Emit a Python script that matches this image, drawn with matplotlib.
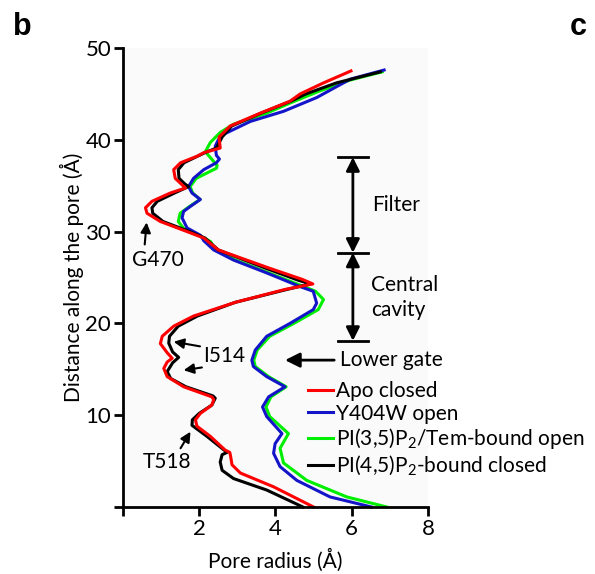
import matplotlib.pyplot as plt

plt.rcParams['font.family'] = ['Lato', 'DejaVu Sans']
plt.rcParams['mathtext.fontset'] = 'custom'
plt.rcParams['mathtext.rm'] = 'Lato'
plt.rcParams['mathtext.it'] = 'Lato:italic'

# pore profiles: distance along pore (A) vs radius (A)
apo_z = [0.0, 2.2, 3.7, 4.6, 5.6, 5.95, 6.2, 7.7, 8.8, 9.5, 10.2, 11.1, 11.7, 12.0,
         13.1, 14.2, 15.1, 15.8, 16.2, 16.8, 17.8, 18.6, 19.7, 20.8, 22.3, 23.7, 24.3,
         24.8, 26.0, 28.0, 29.3, 30.0, 31.1, 32.0, 32.6, 33.3, 34.2, 34.75, 35.1, 35.8,
         36.75, 37.5, 38.2, 38.6, 39.1, 40.3, 41.5, 42.9, 44.2, 45.0, 46.2, 47.5]
apo_r = [5.0, 3.95, 3.08, 2.86, 2.82, 2.80, 2.68, 2.29, 1.94, 1.90, 2.03, 2.33, 2.38, 2.33,
         1.59, 1.16, 1.07, 1.16, 1.29, 1.16, 0.98, 1.03, 1.33, 1.85, 2.95, 4.25, 4.98,
         4.70, 3.85, 2.50, 2.12, 1.68, 0.98, 0.63, 0.59, 0.76, 1.24, 1.64, 1.55, 1.37,
         1.33, 1.51, 1.94, 2.12, 2.55, 2.52, 2.81, 3.60, 4.38, 4.65, 5.26, 5.98]

y404w_z = [0.0, 1.1, 2.9, 4.4, 5.85, 6.9, 8.0, 9.85, 10.9, 12.0, 13.1, 14.2, 15.3, 16.0,
           17.1, 18.6, 20.0, 21.5, 22.2, 23.5, 24.0, 25.5, 26.9, 28.0, 29.0, 29.6, 30.4,
           31.5, 32.2, 32.75, 33.5, 34.2, 34.9, 35.8, 36.75, 37.5, 37.9, 38.3, 39.3, 40.0,
           40.6, 42.0, 43.1, 44.6, 46.6, 47.6]
y404w_r = [6.52, 5.43, 4.56, 4.12, 3.95, 3.99, 4.17, 3.77, 3.66, 3.82, 4.25, 3.77, 3.42, 3.38,
           3.47, 3.77, 4.38, 4.99, 5.08, 4.99, 4.65, 3.77, 2.90, 2.38, 2.12, 2.03, 1.68,
           1.55, 1.59, 1.77, 2.03, 1.81, 1.72, 1.85, 2.12, 2.45, 2.53, 2.45, 2.42, 2.50,
           2.64, 3.34, 4.21, 5.08, 5.96, 6.85]

pi35_z = [0.0, 1.1, 2.9, 4.8, 6.4, 8.0, 9.85, 10.9, 12.0, 13.1, 14.2, 15.3, 16.0, 17.1,
          18.6, 20.0, 21.5, 22.6, 23.5, 24.0, 25.5, 26.9, 28.0, 28.9, 29.5, 30.3, 31.1,
          32.0, 32.75, 33.5, 34.2, 34.9, 35.8, 36.9, 37.2, 38.7, 39.7, 40.8, 41.7, 42.9,
          44.0, 45.3, 46.5, 47.4]
pi35_r = [6.92, 5.87, 4.82, 4.21, 4.12, 4.34, 3.85, 3.75, 3.88, 4.28, 3.82, 3.47, 3.43, 3.52,
          3.85, 4.48, 5.12, 5.26, 5.05, 4.75, 3.82, 2.95, 2.42, 2.30, 2.05, 1.60, 1.45,
          1.50, 1.75, 2.02, 1.83, 1.76, 1.92, 2.45, 2.47, 2.16, 2.29, 2.55, 2.90, 3.77,
          4.38, 5.15, 5.95, 6.80]

pi45_z = [0.0, 1.85, 3.1, 4.0, 4.9, 5.7, 5.95, 7.7, 8.9, 9.5, 10.2, 11.1, 11.85, 12.1,
          13.1, 14.0, 14.75, 15.7, 16.3, 16.9, 17.85, 18.6, 19.7, 20.8, 22.3, 23.7, 24.3,
          24.7, 26.0, 28.0, 29.3, 30.0, 31.1, 32.0, 32.6, 33.3, 34.2, 34.9, 35.2, 35.8,
          36.75, 37.5, 38.2, 38.6, 39.1, 40.3, 41.5, 42.9, 44.2, 45.0, 46.2, 47.4]
pi45_r = [4.72, 3.77, 2.90, 2.60, 2.55, 2.60, 2.73, 2.20, 1.81, 1.82, 2.00, 2.33, 2.42, 2.36,
          1.65, 1.25, 1.16, 1.30, 1.46, 1.30, 1.20, 1.22, 1.45, 1.95, 2.95, 4.30, 4.92,
          4.60, 3.75, 2.50, 2.15, 1.75, 1.05, 0.78, 0.76, 0.90, 1.35, 1.72, 1.62, 1.47,
          1.45, 1.60, 1.95, 2.15, 2.45, 2.60, 2.85, 3.62, 4.40, 4.80, 5.60, 6.75]

labels = ['Apo closed', 'Y404W open', 'PI(3,5)P$_2$/Tem-bound open',
          'PI(4,5)P$_2$-bound closed']
colors = ['#ff0000', '#1414c8', '#00ee00', '#000000']

x_ticks = [0, 2, 4, 6, 8]
x_ticklabels = ['', '2', '4', '6', '8']
y_ticks = [0, 10, 20, 30, 40, 50]
y_ticklabels = ['', '10', '20', '30', '40', '50']

# region boundaries (A along the pore)
filter_top, filter_bottom, cavity_bottom = 38.1, 27.7, 18.1

fs = 15
fig = plt.figure(figsize=(5.95, 5.74), dpi=100)
ax = fig.add_axes([0.2067, 0.1167, 0.5126, 0.7997])
ax.set_facecolor('#fafafa')

lw = 2.2
l_green, = ax.plot(pi35_r, pi35_z, color=colors[2], lw=lw, clip_on=False, solid_joinstyle='round')
l_blue, = ax.plot(y404w_r, y404w_z, color=colors[1], lw=lw, clip_on=False, solid_joinstyle='round')
l_black, = ax.plot(pi45_r, pi45_z, color=colors[3], lw=lw, clip_on=False, solid_joinstyle='round')
l_red, = ax.plot(apo_r, apo_z, color=colors[0], lw=lw, clip_on=False, solid_joinstyle='round')

ax.set_xlim(0, 8)
ax.set_ylim(0, 50)
ax.set_xticks(x_ticks, x_ticklabels)
ax.set_yticks(y_ticks, y_ticklabels)
for s in ['top', 'right']:
    ax.spines[s].set_visible(False)
for s in ['left', 'bottom']:
    ax.spines[s].set_linewidth(2)
ax.tick_params(width=2, length=6.5, labelsize=16, pad=2)
ax.set_xlabel('Pore radius (Å)', fontsize=fs, labelpad=7)
ax.set_ylabel('Distance along the pore (Å)', fontsize=fs, labelpad=1)

ax.legend([l_red, l_blue, l_green, l_black], labels, loc='upper left',
          bbox_to_anchor=(308 / 595, 1 - 381 / 574), bbox_transform=fig.transFigure,
          frameon=False, fontsize=fs, borderpad=0, borderaxespad=0,
          handlelength=1.2, handletextpad=0.15, labelspacing=0.12)

# residue labels with arrows
arrow = dict(arrowstyle='-|>', color='k', lw=1.5, shrinkA=0, shrinkB=0, mutation_scale=15)
ax.annotate('', xy=(0.62, 31.0), xytext=(0.57, 28.6), arrowprops=arrow, annotation_clip=False)
ax.text(0.92, 26.9, 'G470', fontsize=fs, ha='center', va='center')
ax.annotate('', xy=(1.33, 18.0), xytext=(2.02, 17.5), arrowprops=arrow)
ax.annotate('', xy=(1.59, 14.9), xytext=(2.07, 15.2), arrowprops=arrow)
ax.text(2.66, 16.4, 'I514', fontsize=fs, ha='center', va='center')
ax.annotate('', xy=(1.77, 8.2), xytext=(1.51, 6.4), arrowprops=arrow)
ax.text(1.16, 4.9, 'T518', fontsize=fs, ha='center', va='center')

gate = dict(arrowstyle='-|>', color='k', lw=2, shrinkA=0, shrinkB=0, mutation_scale=22)
ax.annotate('', xy=(4.25, 16.0), xytext=(5.54, 16.0), arrowprops=gate, annotation_clip=False)
ax.text(5.70, 16.0, 'Lower gate', fontsize=fs, ha='left', va='center', clip_on=False)

# filter / central cavity brackets
bx = 6.03
for zb in [filter_top, filter_bottom, cavity_bottom]:
    ax.plot([bx - 0.4, bx + 0.4], [zb, zb], color='k', lw=2, clip_on=False)
dbl = dict(arrowstyle='<|-|>', color='k', lw=2, shrinkA=0, shrinkB=0, mutation_scale=20)
ax.annotate('', xy=(bx, filter_top), xytext=(bx, filter_bottom), arrowprops=dbl, annotation_clip=False)
ax.annotate('', xy=(bx, filter_bottom), xytext=(bx, cavity_bottom), arrowprops=dbl, annotation_clip=False)
ax.text(6.53, 32.9, 'Filter', fontsize=fs, ha='left', va='center')
ax.text(6.50, 22.8, 'Central\ncavity', fontsize=fs, ha='left', va='center', linespacing=1.3)

fig.text(13 / 595, 1 - 35 / 574, 'b', fontsize=22, fontweight='bold',
         family='Liberation Sans', va='baseline')
fig.text(570 / 595, 1 - 35 / 574, 'c', fontsize=22, fontweight='bold',
         family='Liberation Sans', va='baseline')

plt.savefig('out.png', dpi=100, facecolor='white')
plt.close()
